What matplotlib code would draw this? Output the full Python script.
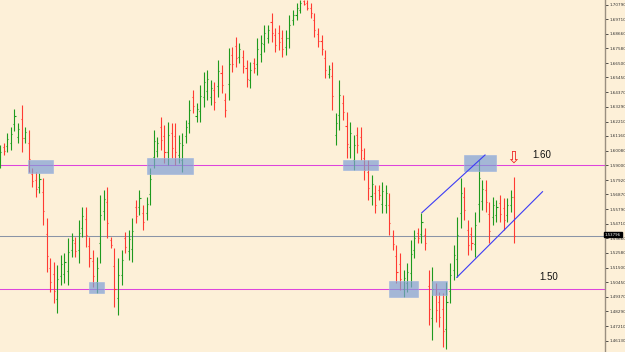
import matplotlib
matplotlib.use('Agg')
import matplotlib.pyplot as plt
from matplotlib.patches import Rectangle

highs = [1.6049,1.6064,1.6137,1.6181,1.6313,1.6210,1.6342,1.6181,1.6159,1.5881,
         1.5851,1.5844,1.5807,1.5514,1.5221,1.5192,1.5170,1.5243,1.5258,1.5368,
         1.5404,1.5375,1.5499,1.5595,1.5595,1.5375,1.5280,1.5228,1.5683,1.5719,
         1.5741,1.5375,1.5294,1.5221,1.5280,1.5411,1.5426,1.5514,1.5646,1.5719,
         1.5609,1.5668,1.5881,1.6159,1.6108,1.6254,1.6196,1.6218,1.6210,1.6210,
         1.6122,1.6137,1.6232,1.6379,1.6452,1.6357,1.6489,1.6584,1.6599,1.6526,
         1.6511,1.6672,1.6636,1.6430,1.6760,1.6768,1.6841,1.6797,1.6746,1.6672,
         1.6658,1.6687,1.6834,1.6855,1.6929,1.6929,1.7017,1.6907,1.6929,1.6892,
         1.6892,1.7002,1.7039,1.7090,1.7112,1.7112,1.7112,1.7090,1.7017,1.6907,
         1.6855,1.6746,1.6636,1.6658,1.6284,1.6526,1.6416,1.6291,1.6218,1.6122,
         1.6181,1.6181,1.6027,1.5939,1.5829,1.5756,1.5756,1.5778,1.5756,1.5697,
         1.5426,1.5316,1.5258,1.5133,1.5184,1.5353,1.5426,1.5441,1.5551,1.5441,
         1.5133,1.5155,1.5038,1.4972,1.4964,1.5045,1.5184,1.5316,1.5521,1.5807,
         1.5741,1.5499,1.5448,1.5558,1.5939,1.5793,1.5793,1.5631,1.5668,1.5646,
         1.5683,1.5661,1.5661,1.5719,1.5815]
lows = [1.5881,1.5976,1.5998,1.6013,1.6152,1.6064,1.5998,1.6064,1.5851,1.5741,
        1.5668,1.5697,1.5463,1.5118,1.4972,1.4891,1.4818,1.5023,1.5038,1.5023,
        1.5228,1.5228,1.5184,1.5375,1.5302,1.5155,1.5008,1.4964,1.5184,1.5499,
        1.5368,1.5294,1.4862,1.4803,1.5023,1.5258,1.5206,1.5192,1.5477,1.5536,
        1.5426,1.5499,1.5609,1.5881,1.5961,1.6013,1.5917,1.5903,1.5954,1.5903,
        1.5917,1.5851,1.6064,1.6137,1.6284,1.6218,1.6218,1.6328,1.6379,1.6342,
        1.6306,1.6401,1.6430,1.6254,1.6379,1.6584,1.6621,1.6650,1.6577,1.6474,
        1.6467,1.6577,1.6562,1.6658,1.6731,1.6797,1.6804,1.6731,1.6746,1.6694,
        1.6709,1.6760,1.6929,1.6965,1.7017,1.7075,1.7039,1.6980,1.6841,1.6768,
        1.6709,1.6540,1.6540,1.6306,1.6049,1.6159,1.6232,1.5954,1.5954,1.5866,
        1.5991,1.5939,1.5793,1.5646,1.5609,1.5551,1.5646,1.5551,1.5551,1.5389,
        1.5280,1.5038,1.4986,1.4935,1.4972,1.5008,1.5221,1.5331,1.5331,1.5280,
        1.4730,1.4620,1.4752,1.4715,1.4569,1.4554,1.4891,1.5060,1.5082,1.5441,
        1.5499,1.5243,1.5280,1.5228,1.5485,1.5573,1.5558,1.5331,1.5463,1.5485,
        1.5485,1.5426,1.5485,1.5558,1.5331]
opens = [1.5932,1.6035,1.6042,1.6064,1.6203,1.6108,1.6240,1.6100,1.6064,1.5837,
         1.5793,1.5741,1.5705,1.5397,1.5148,1.5104,1.4920,1.5089,1.5104,1.5126,
         1.5280,1.5331,1.5280,1.5441,1.5507,1.5309,1.5199,1.5045,1.5331,1.5565,
         1.5631,1.5353,1.5162,1.4928,1.5096,1.5368,1.5272,1.5287,1.5595,1.5595,
         1.5551,1.5551,1.5690,1.5961,1.6005,1.6181,1.6115,1.5998,1.6137,1.6115,
         1.5976,1.5939,1.6115,1.6210,1.6401,1.6262,1.6298,1.6401,1.6445,1.6401,
         1.6452,1.6482,1.6577,1.6379,1.6496,1.6709,1.6775,1.6694,1.6694,1.6614,
         1.6526,1.6650,1.6643,1.6716,1.6790,1.6834,1.6951,1.6855,1.6870,1.6834,
         1.6768,1.6834,1.6965,1.7002,1.7039,1.7105,1.7090,1.7053,1.6965,1.6863,
         1.6812,1.6687,1.6570,1.6555,1.6122,1.6269,1.6357,1.6188,1.6035,1.5939,
         1.6122,1.6108,1.5954,1.5851,1.5675,1.5697,1.5719,1.5617,1.5609,1.5609,
         1.5382,1.5236,1.5177,1.4994,1.5038,1.5111,1.5280,1.5404,1.5397,1.5389,
         1.5016,1.4781,1.4950,1.4898,1.4847,1.4700,1.4979,1.5133,1.5214,1.5551,
         1.5668,1.5426,1.5397,1.5324,1.5617,1.5639,1.5719,1.5543,1.5521,1.5536,
         1.5624,1.5587,1.5536,1.5609,1.5668]
closes = [1.5998,1.6005,1.6093,1.6130,1.6262,1.6166,1.6100,1.6144,1.5946,1.5785,
          1.5727,1.5800,1.5565,1.5236,1.5045,1.4979,1.5067,1.5177,1.5192,1.5265,
          1.5353,1.5272,1.5404,1.5529,1.5389,1.5221,1.5089,1.5148,1.5536,1.5653,
          1.5477,1.5316,1.4994,1.5096,1.5206,1.5302,1.5360,1.5419,1.5529,1.5661,
          1.5485,1.5617,1.5800,1.6079,1.6064,1.6086,1.5998,1.6122,1.6027,1.5998,
          1.6064,1.6049,1.6181,1.6306,1.6335,1.6313,1.6408,1.6511,1.6533,1.6467,
          1.6364,1.6592,1.6489,1.6306,1.6643,1.6643,1.6687,1.6753,1.6628,1.6533,
          1.6599,1.6614,1.6753,1.6797,1.6870,1.6892,1.6870,1.6782,1.6804,1.6753,
          1.6834,1.6929,1.7002,1.7053,1.7090,1.7083,1.7053,1.7017,1.6892,1.6812,
          1.6753,1.6599,1.6606,1.6408,1.6210,1.6416,1.6291,1.6057,1.6137,1.6049,
          1.6049,1.6013,1.5866,1.5734,1.5763,1.5609,1.5683,1.5712,1.5697,1.5477,
          1.5324,1.5118,1.5067,1.5074,1.5118,1.5250,1.5368,1.5368,1.5485,1.5331,
          1.4847,1.4994,1.4840,1.4788,1.4686,1.4898,1.5096,1.5243,1.5389,1.5697,
          1.5573,1.5316,1.5331,1.5463,1.5807,1.5727,1.5631,1.5419,1.5609,1.5595,
          1.5543,1.5499,1.5609,1.5668,1.53796]

tick_labels = ['1.70790','1.69710','1.68660','1.67580','1.66500','1.65450','1.64370',
               '1.63290','1.62210','1.61160','1.60080','1.59000','1.57920','1.56870',
               '1.55790','1.54710','1.53660','1.52580','1.51500','1.50450','1.49370',
               '1.48290','1.47210','1.46130']
tick_values = [float(t) for t in tick_labels]

levels = [1.5902, 1.4994]
level_texts = ['1.60', '1.50']

# support/resistance zones: (x start, x end, price low, price high)
zones = [(7.8, 14.8, 1.5844, 1.5939), (41.1, 54.0, 1.5837, 1.5954),
         (24.9, 29.1, 1.4964, 1.5045), (96.0, 105.8, 1.5866, 1.5939),
         (129.9, 138.9, 1.5859, 1.5976), (108.9, 117.0, 1.4935, 1.5052),
         (120.9, 125.2, 1.4950, 1.5052)]
channel_upper = ([118.1, 135.8], [1.5553, 1.5976])
channel_lower = ([127.9, 151.9], [1.5079, 1.5707])

bg = '#fdf0d8'
fig = plt.figure(figsize=(6.25, 3.52), dpi=100, facecolor=bg)
ax = fig.add_axes([0, 0, 605/625, 1])
ax.set_facecolor(bg)

n = len(highs)
xs = list(range(n))
up = '#1e9a1e'
dn = '#ff3a32'
cols = [up if c >= o else dn for o, c in zip(opens, closes)]

for x0, x1, lo, hi in zones:
    ax.add_patch(Rectangle((x0, lo), x1 - x0, hi - lo, facecolor='#7f9fd6',
                           edgecolor='#9fb6de', lw=0.6, alpha=0.7, zorder=3))

for lv in levels:
    ax.axhline(lv, color='#dd44dd', lw=0.75, zorder=1)
ax.axhline(closes[-1], color='#8a94a6', lw=0.75, zorder=1)

ax.vlines(xs, lows, highs, colors=cols, lw=0.8, zorder=2)
ax.hlines(opens, [x - 0.3 for x in xs], xs, colors=cols, lw=0.8, zorder=2)
ax.hlines(closes, xs, [x + 0.3 for x in xs], colors=cols, lw=0.8, zorder=2)

ax.plot(*channel_upper, color='#3c3cf5', lw=0.8, zorder=4)
ax.plot(*channel_lower, color='#3c3cf5', lw=0.8, zorder=4)

ax.text(151.8, 1.5976, level_texts[0], fontsize=7, family='Liberation Sans',
        ha='center', va='center', color='#111111')
ax.text(153.7, 1.5082, level_texts[1], fontsize=7, family='Liberation Sans',
        ha='center', va='center', color='#111111')
ax.text(143.6, 1.5954, '\u21e9', fontsize=12, family='DejaVu Sans',
        ha='center', va='center', color='#ee2222')

ax.set_xlim(-0.056, 169.4)
ax.set_ylim(1.4532, 1.7112)
ax.yaxis.tick_right()
ax.set_yticks(tick_values)
ax.set_yticklabels(tick_labels)
ax.tick_params(axis='y', length=2, width=0.6, pad=1, labelsize=3,
               colors='#333333')
ax.set_xticks([])
for s in ['top', 'bottom', 'left']:
    ax.spines[s].set_visible(False)
ax.spines['right'].set_color('#9a8f80')
ax.spines['right'].set_linewidth(1.0)

ax.text(1.0, closes[-1] + 0.0012, '1.53796', transform=ax.get_yaxis_transform(),
        fontsize=2.8, color='white', ha='left', va='center',
        bbox=dict(boxstyle='square,pad=0.2', fc='black', ec='black'),
        clip_on=False, zorder=10)

fig.savefig('out.png', dpi=100, facecolor=bg)
